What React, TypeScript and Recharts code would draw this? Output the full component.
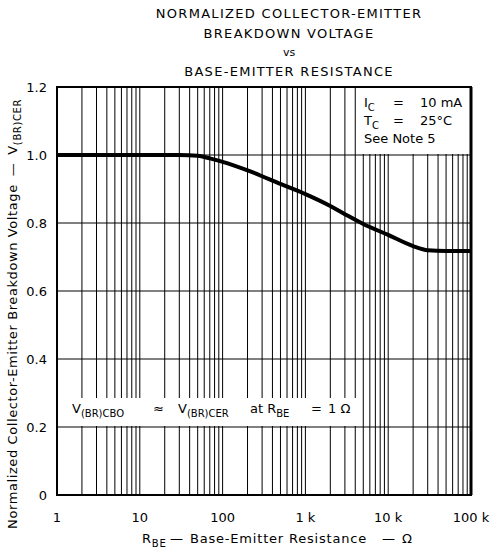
import React from 'react';
import { LineChart, Line, XAxis, YAxis, CartesianGrid } from 'recharts';

// R_BE in ohms, normalized V(BR)CER
const rbe = [1, 10, 30, 50, 70, 100, 200, 500, 1000, 2000, 3000, 5000, 10000, 20000, 30000, 50000, 100000];
const vNorm = [1.0, 1.0, 1.0, 0.998, 0.99, 0.98, 0.955, 0.915, 0.885, 0.85, 0.826, 0.797, 0.765, 0.732, 0.72, 0.718, 0.718];

const decades = [1, 10, 100, 1000, 10000, 100000];
const decadeLabels = ['1', '10', '100', '1 k', '10 k', '100 k'];
const yTicks = [0, 0.2, 0.4, 0.6, 0.8, 1.0, 1.2];
const yTickLabels = ['0', '0.2', '0.4', '0.6', '0.8', '1.0', '1.2'];

const titleLines = ['NORMALIZED COLLECTOR-EMITTER', 'BREAKDOWN VOLTAGE', 'vs', 'BASE-EMITTER RESISTANCE'];

const data = rbe.map((r, i) => ({ r, v: vNorm[i] }));

// every 1..9 x 10^n for the log grid
const gridTicks: number[] = [];
decades.slice(0, -1).forEach((d) => {
    for (let k = 1; k < 10; k++) gridTicks.push(d * k);
});
gridTicks.push(100000);

const W = 496;
const H = 551;
const L = 57;
const T = 87;
const R = 471;
const B = 495;
const font = '"DejaVu Sans", sans-serif';

export default function App() {
    return (
        <div style={{ position: 'absolute', left: 0, top: 0, width: W, height: H, background: '#fff' }}>
            <LineChart width={W} height={H} data={data} margin={{ top: T, right: W - R, bottom: 0, left: 0 }}>
                <CartesianGrid stroke="#000" strokeWidth={1} />
                <XAxis
                    dataKey="r"
                    type="number"
                    scale="log"
                    domain={[1, 100000]}
                    ticks={gridTicks}
                    interval={0}
                    height={H - B}
                    axisLine={false}
                    tickLine={false}
                    tickMargin={12}
                    tick={{ fill: '#000', fontSize: 13, fontFamily: font }}
                    tickFormatter={(v: number) => {
                        const i = decades.indexOf(v);
                        return i >= 0 ? decadeLabels[i] : '';
                    }}
                />
                <YAxis
                    type="number"
                    domain={[0, 1.2]}
                    ticks={yTicks}
                    width={L}
                    axisLine={false}
                    tickLine={false}
                    tickMargin={4}
                    tick={{ fill: '#000', fontSize: 13, fontFamily: font }}
                    tickFormatter={(v: number) => yTickLabels[yTicks.indexOf(v)] ?? ''}
                />
                <Line dataKey="v" type="monotone" stroke="#000" strokeWidth={4} dot={false} isAnimationActive={false} />
            </LineChart>

            <svg width={W} height={H} style={{ position: 'absolute', left: 0, top: 0 }} fontFamily={font} fill="#000">
                <rect x={L} y={T} width={R - L} height={B - T} fill="none" stroke="#000" strokeWidth={2} />
                <line x1={R} y1={T} x2={R} y2={B} stroke="#000" strokeWidth={3} />

                {titleLines.map((t, i) => (
                    <text
                        key={t}
                        x={289}
                        y={[18, 38, 56, 76][i]}
                        textAnchor="middle"
                        fontSize={i === 2 ? 11 : 13}
                        letterSpacing={i === 2 ? 0 : 1.3}
                    >
                        {t}
                    </text>
                ))}

                {/* conditions box */}
                <rect x={356} y={T + 1} width={113} height={66} fill="#fff" />
                <text x={364} y={107} fontSize={13}>
                    I<tspan fontSize={10} dy={4}>C</tspan>
                    <tspan dy={-4} x={393}>=</tspan>
                    <tspan x={420}>10 mA</tspan>
                </text>
                <text x={364} y={125} fontSize={13}>
                    T<tspan fontSize={10} dy={4}>C</tspan>
                    <tspan dy={-4} x={393}>=</tspan>
                    <tspan x={420}>25°C</tspan>
                </text>
                <text x={364} y={143} fontSize={13}>See Note 5</text>

                {/* V(BR)CBO note */}
                <rect x={66} y={398} width={292} height={28} fill="#fff" />
                <text x={72} y={413} fontSize={13}>
                    V<tspan fontSize={10} dy={4}>(BR)CBO</tspan>
                    <tspan dy={-4} x={153}>≈</tspan>
                    <tspan x={178}>V</tspan>
                    <tspan fontSize={10} dy={4}>(BR)CER</tspan>
                    <tspan dy={-4} x={250}>at R</tspan>
                    <tspan fontSize={10} dy={4}>BE</tspan>
                    <tspan dy={-4} x={311}>=</tspan>
                    <tspan x={328}>1 Ω</tspan>
                </text>

                {/* axis titles */}
                <text fontSize={13} letterSpacing={0.8} y={543}>
                    <tspan x={142}>R</tspan>
                    <tspan fontSize={10} dy={4}>BE</tspan>
                    <tspan dy={-4} x={170}>—</tspan>
                    <tspan x={190}>Base-Emitter Resistance</tspan>
                    <tspan x={382}>—</tspan>
                    <tspan x={402}>Ω</tspan>
                </text>
                <text transform="translate(17,314) rotate(-90)" textAnchor="middle" fontSize={13} letterSpacing={0.6}>
                    <tspan>Normalized Collector-Emitter Breakdown Voltage</tspan>
                    <tspan dx={8}>—</tspan>
                    <tspan dx={8}>V</tspan>
                    <tspan fontSize={10} dy={4}>(BR)CER</tspan>
                </text>
            </svg>
        </div>
    );
}
